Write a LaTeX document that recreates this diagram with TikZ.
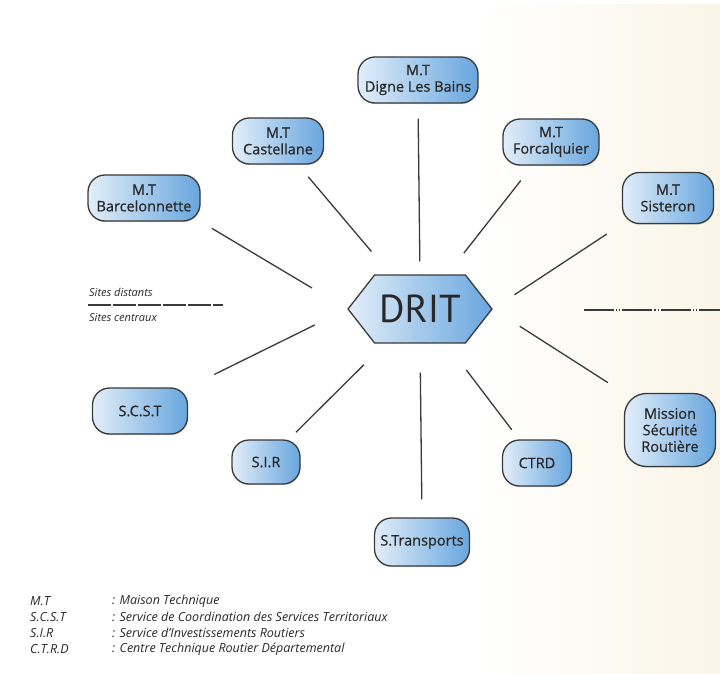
\documentclass[tikz,border=0pt]{standalone}
\usepackage{fontspec}
\setmainfont{Open Sans}
\newfontfamily\sitefont{Open Sans}[FakeBold=0.6]
\newfontfamily\hubfont{PT Sans}
\usepackage{tikz}
\usetikzlibrary{calc,shapes.symbols,shadows}

\definecolor{boxleft}{RGB}{226,238,250}
\definecolor{boxright}{RGB}{104,166,222}
\definecolor{edgegray}{RGB}{58,58,58}
\definecolor{textgray}{RGB}{40,40,40}
\definecolor{cream}{RGB}{250,245,231}

\tikzset{
  site/.style={rounded corners=17pt, draw=edgegray, line width=1.3pt,
    left color=boxleft, right color=boxright, align=center, inner sep=1pt,
    text=textgray, font=\sitefont\fontsize{14.5}{16.5}\selectfont, minimum height=46pt,
    drop shadow={shadow xshift=0.4pt, shadow yshift=-1.2pt, opacity=0.35}},
  hub/.style={signal, signal to=west and east, signal pointer angle=104,
    draw=edgegray, line width=1.3pt, left color=boxleft, right color=boxright,
    minimum width=144pt, minimum height=68pt, inner sep=0pt, text=textgray,
    font=\hubfont\fontsize{39}{41}\selectfont},
  link/.style={draw=edgegray, line width=1.3pt},
  legend/.style={anchor=west, inner sep=0pt, text=textgray,
    font=\itshape\fontsize{12.5}{14}\selectfont}
}

\begin{document}
\begin{tikzpicture}[x=1pt,y=-1pt]
            \useasboundingbox (0,0) rectangle (720,674);
            % Define legend positions
            \def\legendX{30}
            \def\legendText{112}

            % Draw background
            \shade[left color=white, right color=cream] (480,5) rectangle (720,674);

            % Draw central hub
            \node[hub] (drit) at (420,309) {DRIT};

            % Draw distant sites
            \node[site, minimum width=120pt] (dig) at (418,80) {M.T\\Digne Les Bains};
            \node[site, minimum width=91pt] (cas) at (278,141) {M.T\\Castellane};
            \node[site, minimum width=96pt] (forc) at (551,142) {M.T\\Forcalquier};
            \node[site, minimum width=112pt] (bar) at (144,198) {M.T\\Barcelonnette};
            \node[site, minimum width=91pt, minimum height=51pt] (sis) at (668,198) {M.T\\Sisteron};

            % Draw central sites
            \node[site, minimum width=95pt] (scst) at (140,411) {S.C.S.T};
            \node[site, minimum width=91pt, minimum height=73pt, rounded corners=22pt] (mis) at (670,430) {Mission\\Sécurité\\Routière};
            \node[site, minimum width=68pt, minimum height=44pt] (sir) at (266,462) {S.I.R};
            \node[site, minimum width=69pt] (ctrd) at (537,463) {CTRD};
            \node[site, minimum width=95pt, minimum height=48pt] (stra) at (422,542) {S.Transports};

            % Draw links to DRIT
            \draw[link, shorten <=15pt, shorten >=13pt] (dig.south) -- (drit.north);
            \draw[link, shorten <=16pt, shorten >=30pt] (cas) -- (drit);
            \draw[link, shorten <=19pt, shorten >=27pt] (forc) -- (drit);
            \draw[link, shorten <=18pt, shorten >=26pt] (sis.south west) -- (drit.east);
            \draw[link, shorten <=13pt, shorten >=41pt] (bar.south east) -- (drit.west);
            \draw[link, shorten <=29pt, shorten >=36pt] (scst.north east) -- (drit.west);
            \draw[link, shorten <=10pt, shorten >=30pt] (sir) -- (drit);
            \draw[link, shorten <=18pt, shorten >=29pt] (stra.north) -- (drit.south);
            \draw[link, shorten <=12pt, shorten >=33pt] (ctrd) -- (drit);
            \draw[link, shorten <=19pt, shorten >=32pt] (mis.north west) -- (drit.east);

            % Draw separators
            \node[legend, font=\itshape\fontsize{11}{12}\selectfont] (dist) at (89,292) {Sites distants};
            \node[legend, font=\itshape\fontsize{11}{12}\selectfont] (cent) at (89,318) {Sites centraux};
            \draw[link, line width=1.2pt, dash pattern=on 23pt off 2pt] (88,305) -- (223,305);
            \draw[link, line width=1.2pt, dash pattern=on 30pt off 2pt on 1.2pt off 2pt on 1.2pt off 2pt] (584,310) -- (720,310);

            % Label abbreviations
            \node[legend] (mtA) at (\legendX,601) {M.T};
            \node[legend] (mtB) at (\legendText,601) {: Maison Technique};
            \node[legend] (scA) at (\legendX,617) {S.C.S.T};
            \node[legend] (scB) at (\legendText,617) {: Service de Coordination des Services Territoriaux};
            \node[legend] (siA) at (\legendX,633) {S.I.R};
            \node[legend] (siB) at (\legendText,633) {: Service d'Investissements Routiers};
            \node[legend] (ctA) at (\legendX,649) {C.T.R.D};
            \node[legend] (ctB) at (\legendText,649) {: Centre Technique Routier Départemental};

        \end{tikzpicture}
\end{document}
